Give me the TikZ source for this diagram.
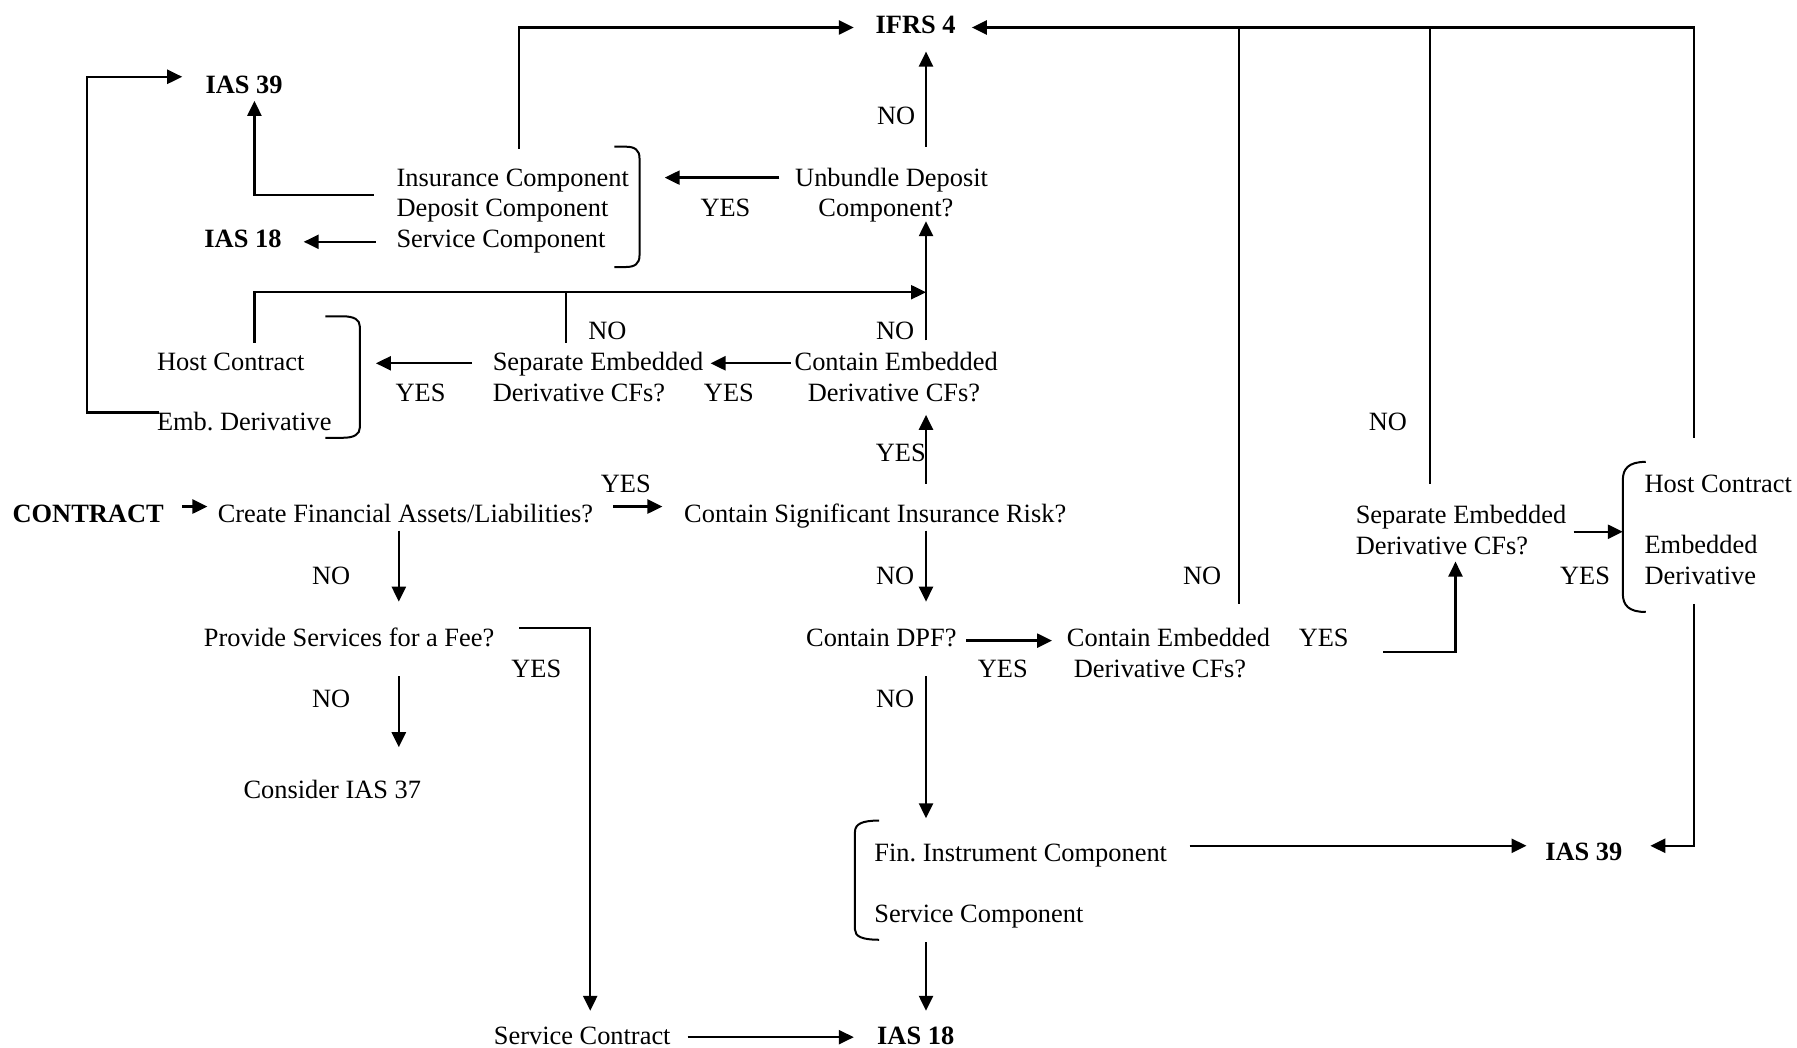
\documentclass[tikz,border=0pt]{standalone}
\usepackage{fontspec}
\setmainfont{Liberation Serif}
\usetikzlibrary{arrows.meta}
\begin{document}
\begin{tikzpicture}[x=0.573pt,y=-0.573pt,
  txt/.style={inner sep=0pt,outer sep=0pt,font=\fontsize{13.2pt}{15pt}\selectfont},
  lbl/.style={txt,anchor=base},
  lft/.style={txt,anchor=base west},
  std/.style={txt,anchor=base,font=\fontsize{13.2pt}{15pt}\selectfont\bfseries},
  arr/.style={line width=1.2pt,-{Triangle[length=7.5pt,width=7pt]}},
  ln/.style={line width=1pt},
  brc/.style={line width=1pt}]
\useasboundingbox (0,0) rectangle (1568,914);

% ---- standards (bold) ----
\node[std] (ifrs) at (799,29) {IFRS 4};
\node[std] (ias39a) at (213,82) {IAS 39};
\node[std] (ias18a) at (212,216) {IAS 18};
\node[std,anchor=base west] (contract) at (11,456) {CONTRACT};
\node[std] (ias18b) at (799,911) {IAS 18};
\node[std] (ias39b) at (1382,751) {IAS 39};

% ---- text nodes ----
\node[lft] (insc) at (346,163) {Insurance Component};
\node[lft] (depc) at (346,189) {Deposit Component};
\node[lft] (serc) at (346,216) {Service Component};
\node[lbl] (unb1) at (778,163) {Unbundle Deposit};
\node[lbl] (unb2) at (773,189) {Component?};
\node[lbl] (no1) at (782,109) {NO};
\node[lbl] (yes1) at (633,189) {YES};

\node[lft] (host1a) at (137,323) {Host Contract};
\node[lft] (host1b) at (137,376) {Emb.\ Derivative};
\node[lft] (sep1a) at (430,323) {Separate Embedded};
\node[lft] (sep1b) at (430,350) {Derivative CFs?};
\node[lbl] (yes2) at (367,350) {YES};
\node[lbl] (yes3) at (636,350) {YES};
\node[lbl] (cea1) at (782,323) {Contain Embedded};
\node[lbl] (ceb1) at (780,350) {Derivative CFs?};
\node[lbl] (no2) at (530,296) {NO};
\node[lbl] (no3) at (781,296) {NO};
\node[lbl] (yes4) at (786,403) {YES};

\node[lft] (create) at (190,456) {Create Financial Assets/Liabilities?};
\node[lbl] (yes5) at (546,430) {YES};
\node[lft] (risk) at (597,456) {Contain Significant Insurance Risk?};
\node[lbl] (no4) at (289,510) {NO};
\node[lbl] (no5) at (781,510) {NO};
\node[lft] (provide) at (178,564) {Provide Services for a Fee?};
\node[lbl] (yes6) at (468,591) {YES};
\node[lbl] (no6) at (289,617) {NO};
\node[lbl] (consider) at (290,697) {Consider IAS 37};
\node[lbl] (servc) at (508,911) {Service Contract};

\node[lbl] (dpf) at (769,564) {Contain DPF?};
\node[lbl] (yes7) at (875,591) {YES};
\node[lft] (cea2) at (931,564) {Contain Embedded};
\node[lft] (ceb2) at (937,591) {Derivative CFs?};
\node[lbl] (yes8) at (1155,564) {YES};
\node[lbl] (no7) at (1049,510) {NO};
\node[lft] (sep2a) at (1183,457) {Separate Embedded};
\node[lft] (sep2b) at (1183,484) {Derivative CFs?};
\node[lbl] (no8) at (1211,376) {NO};
\node[lbl] (yes9) at (1383,510) {YES};
\node[lft] (host2a) at (1435,430) {Host Contract};
\node[lft] (host2b) at (1435,483) {Embedded};
\node[lft] (host2c) at (1435,510) {Derivative};
\node[lbl] (no9) at (781,617) {NO};
\node[lft] (fin) at (763,752) {Fin.\ Instrument Component};
\node[lft] (serc2) at (763,805) {Service Component};

% ---- connector end points ----
\coordinate (tl) at (848,24);
\coordinate (insTop) at (453,130);
\coordinate (ifrsL) at (745,24);
\coordinate (ifrsB) at (808,45);
\coordinate (unbTop) at (808,128);
\coordinate (unbL) at (680,155);
\coordinate (br1) at (580,155);
\coordinate (unbBot) at (808,193);
\coordinate (ce1Top) at (808,297);
\coordinate (j255) at (808,255);
\coordinate (h1Top) at (222,299);
\coordinate (s1Top) at (494,299);
\coordinate (s1L) at (412,317);
\coordinate (br2) at (328,317);
\coordinate (ce1L) at (690,317);
\coordinate (s1R) at (620,317);
\coordinate (riskTop) at (808,422);
\coordinate (ce1Bot) at (808,362);
\coordinate (embL) at (139,360);
\coordinate (loopL) at (76,360);
\coordinate (ias39aL) at (159,67);
\coordinate (insL) at (326,170);
\coordinate (ias39aB) at (222,88);
\coordinate (serL) at (328,211);
\coordinate (ias18aR) at (265,211);
\coordinate (conR) at (159,442);
\coordinate (creL) at (181,442);
\coordinate (creR) at (535,442);
\coordinate (riskL) at (578,442);
\coordinate (creBot) at (348,463);
\coordinate (provTop) at (348,525);
\coordinate (riskBot) at (808,463);
\coordinate (dpfTop) at (808,525);
\coordinate (provR) at (453,548);
\coordinate (servcTop) at (515,882);
\coordinate (provBot) at (348,590);
\coordinate (consTop) at (348,652);
\coordinate (servcR) at (600,905);
\coordinate (ias18bL) at (745,905);
\coordinate (dpfR) at (843,559);
\coordinate (ce2L) at (918,559);
\coordinate (ce2R) at (1207,569);
\coordinate (sep2Bot) at (1270,490);
\coordinate (ce2Top) at (1081,527);
\coordinate (sep2Top) at (1248,422);
\coordinate (sep2R) at (1373,464);
\coordinate (br3) at (1416,464);
\coordinate (h2Top) at (1478,382);
\coordinate (h2Bot) at (1478,527);
\coordinate (ias39bR) at (1440,738);
\coordinate (dpfBot) at (808,590);
\coordinate (br4Top) at (808,714);
\coordinate (finR) at (1038,738);
\coordinate (ias39bL) at (1332,738);
\coordinate (br4Bot) at (808,822);
\coordinate (ias18bTop) at (808,882);

% ---- connectors ----
\draw[arr] (insTop) |- (ifrsL);
\draw[arr] (h2Top) |- (tl);
\draw[ln] (ce2Top) -- (ce2Top |- tl);
\draw[ln] (sep2Top) -- (sep2Top |- tl);
\draw[arr] (unbTop) -- (ifrsB);
\draw[arr] (unbL) -- (br1);
\draw[arr] (ce1Top) -- (unbBot);
\draw[arr] (h1Top) |- (j255);
\draw[ln] (s1Top) -- (s1Top |- j255);
\draw[arr] (s1L) -- (br2);
\draw[arr] (ce1L) -- (s1R);
\draw[arr] (riskTop) -- (ce1Bot);
\draw[arr] (embL) -- (loopL) |- (ias39aL);
\draw[arr] (insL) -| (ias39aB);
\draw[arr] (serL) -- (ias18aR);
\draw[arr] (conR) -- (creL);
\draw[arr] (creR) -- (riskL);
\draw[arr] (creBot) -- (provTop);
\draw[arr] (riskBot) -- (dpfTop);
\draw[arr] (provR) -| (servcTop);
\draw[arr] (provBot) -- (consTop);
\draw[arr] (servcR) -- (ias18bL);
\draw[arr] (dpfR) -- (ce2L);
\draw[arr] (ce2R) -| (sep2Bot);
\draw[arr] (sep2R) -- (br3);
\draw[arr] (h2Bot) |- (ias39bR);
\draw[arr] (dpfBot) -- (br4Top);
\draw[arr] (finR) -- (ias39bL);
\draw[arr] (br4Bot) -- (ias18bTop);

% ---- brackets ----
\draw[brc] (536,128) -- (546,128) .. controls (554,128) and (558,131) .. (558,138)
  -- (558,223) .. controls (558,230) and (554,233) .. (546,233) -- (536,233);
\draw[brc] (284,276) -- (299,276) .. controls (309,276) and (314,279) .. (314,285)
  -- (314,373) .. controls (314,379) and (309,382) .. (299,382) -- (284,382);
\draw[brc] (1436,403) .. controls (1421,403) and (1416,409) .. (1416,419)
  -- (1416,518) .. controls (1416,528) and (1421,534) .. (1436,534);
\draw[brc] (767,716) .. controls (752,716) and (746,719) .. (746,726)
  -- (746,811) .. controls (746,817) and (752,820) .. (767,820);
\end{tikzpicture}
\end{document}
